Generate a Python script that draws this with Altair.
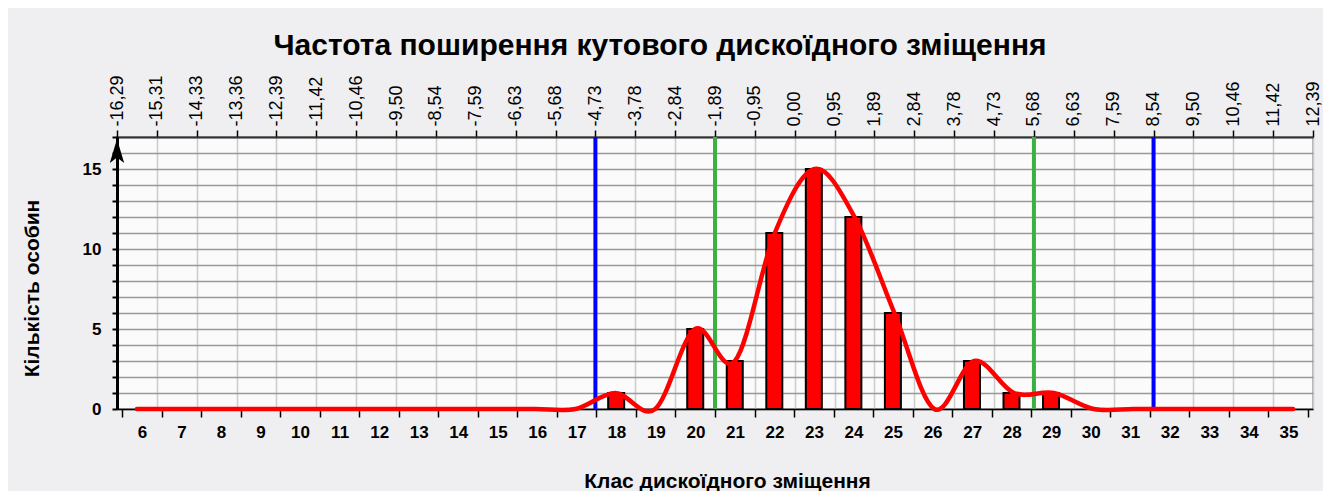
import altair as alt
import pandas as pd

# ---- data ----
classes = [6, 7, 8, 9, 10, 11, 12, 13, 14, 15, 16, 17, 18, 19, 20,
           21, 22, 23, 24, 25, 26, 27, 28, 29, 30, 31, 32, 33, 34, 35]
counts = [0, 0, 0, 0, 0, 0, 0, 0, 0, 0, 0, 0, 1, 0, 5,
          3, 11, 15, 12, 6, 0, 3, 1, 1, 0, 0, 0, 0, 0, 0]
top_labels = ["-16,29", "-15,31", "-14,33", "-13,36", "-12,39", "-11,42", "-10,46",
              "-9,50", "-8,54", "-7,59", "-6,63", "-5,68", "-4,73", "-3,78", "-2,84",
              "-1,89", "-0,95", "0,00", "0,95", "1,89", "2,84", "3,78", "4,73", "5,68",
              "6,63", "7,59", "8,54", "9,50", "10,46", "11,42", "12,39"]
marker_pos = [17.5, 20.5, 28.5, 31.5]          # class boundaries (-4,73; -1,89; 5,68; 8,54)
marker_col = ["#0000ff", "#3cb043", "#3cb043", "#0000ff"]

title = "Частота поширення кутового дискоїдного зміщення"
x_title = "Клас дискоїдного зміщення"
y_title = "Кількість особин"

FONT = "Liberation Sans"
W, H = 1196, 272
XMIN, XMAX = classes[0] - 0.5, classes[-1] + 0.5
YMAX = 17

df = pd.DataFrame({"cls": classes, "n": counts})
bars_df = df[df["n"] > 0]
bounds = [XMIN + i for i in range(len(top_labels))]
marks_df = pd.DataFrame({"pos": marker_pos, "col": marker_col,
                         "y0": [0] * 4, "y1": [YMAX] * 4})

xscale = alt.Scale(domain=[XMIN, XMAX], nice=False, zero=False)
yscale = alt.Scale(domain=[0, YMAX], nice=False, zero=True)

lab_arr = "[" + ",".join("'" + s + "'" for s in top_labels) + "]"

# top axis + vertical grid (carried by the rule layer)
rules = alt.Chart(marks_df).mark_rule(strokeWidth=4).encode(
    x=alt.X("pos:Q", scale=xscale, axis=alt.Axis(
        orient="top", values=bounds, title=None,
        labelExpr=lab_arr + "[round(datum.value - %s)]" % XMIN,
        labelAngle=270, labelAlign="left", labelBaseline="middle",
        labelFont=FONT, labelFontSize=18, labelColor="#000",
        labelPadding=4, labelOverlap=False, labelBound=False, labelFlush=False,
        tickSize=7, tickColor="#000", tickWidth=1.5,
        domainColor="#333", domainWidth=2,
        grid=True, gridColor="#cccccc", gridWidth=1.5)),
    y=alt.Y("y0:Q", scale=yscale, axis=alt.Axis(
        values=list(range(0, YMAX + 1)), title=y_title,
        labelExpr="datum.value % 5 == 0 ? datum.value : ''",
        labelFont=FONT, labelFontSize=17, labelFontWeight="bold", labelColor="#000",
        labelPadding=11, tickSize=5, tickColor="#000", tickWidth=2,
        domainColor="#000", domainWidth=3,
        grid=True, gridColor="#999999", gridWidth=1.5,
        titleFont=FONT, titleFontSize=21, titleFontWeight="bold", titleColor="#000",
        titleAngle=270, titleX=-85, titleY=151, titleAlign="center",
        titleBaseline="middle")),
    y2="y1:Q",
    color=alt.Color("col:N", scale=None),
)

bars = alt.Chart(bars_df).mark_bar(size=16, color="#ff0000", stroke="#000",
                                   strokeWidth=2).encode(
    x=alt.X("cls:Q", scale=xscale, axis=alt.Axis(
        orient="bottom", values=bounds, title=x_title,
        labelExpr="datum.value < %s ? format(datum.value + 0.5, 'd') : ''" % (XMAX - 0.5),
        labelOffset=W / (XMAX - XMIN) / 2,
        labelFont=FONT, labelFontSize=17, labelFontWeight="bold", labelColor="#000",
        labelPadding=7, labelOverlap=False, labelBound=False, labelFlush=False,
        tickSize=8, tickColor="#000", tickWidth=1.5,
        domainColor="#000", domainWidth=1.5, grid=False,
        titleFont=FONT, titleFontSize=21, titleFontWeight="bold", titleColor="#000",
        titleX=610, titleY=72, titleAlign="center", titleBaseline="middle")),
    y=alt.Y("n:Q", scale=yscale, axis=None),
)

line = alt.Chart(df).mark_line(interpolate="cardinal", color="#ff0000",
                               strokeWidth=4.5, strokeCap="round").encode(
    x=alt.X("cls:Q", scale=xscale, axis=None),
    y=alt.Y("n:Q", scale=yscale, axis=None),
)

arrow = alt.Chart(pd.DataFrame({"x": [XMIN], "y": [YMAX]})).mark_point(
    shape="M0,-1L0.6,1L0,0.55L-0.6,1Z", size=576, filled=True, color="#000",
    opacity=1, yOffset=14).encode(
    x=alt.X("x:Q", scale=xscale, axis=None),
    y=alt.Y("y:Q", scale=yscale, axis=None),
)

chart = alt.layer(rules, bars, line, arrow).resolve_scale(
    x="independent", y="independent"
).properties(
    width=W, height=H,
    title=alt.TitleParams(title, font=FONT, fontSize=30, fontWeight="bold",
                          color="#000", anchor="middle", frame="group",
                          dx=-55, offset=14),
    autosize=alt.AutoSizeParams(type="none"),
    padding={"left": 109, "top": 129, "right": 10, "bottom": 82},
    background="#efeff2",
).configure_view(
    fill="#fbfbfb", stroke="#999999", strokeWidth=1.5
)

chart.save("out.html", embed_options={"renderer": "svg", "actions": False})
